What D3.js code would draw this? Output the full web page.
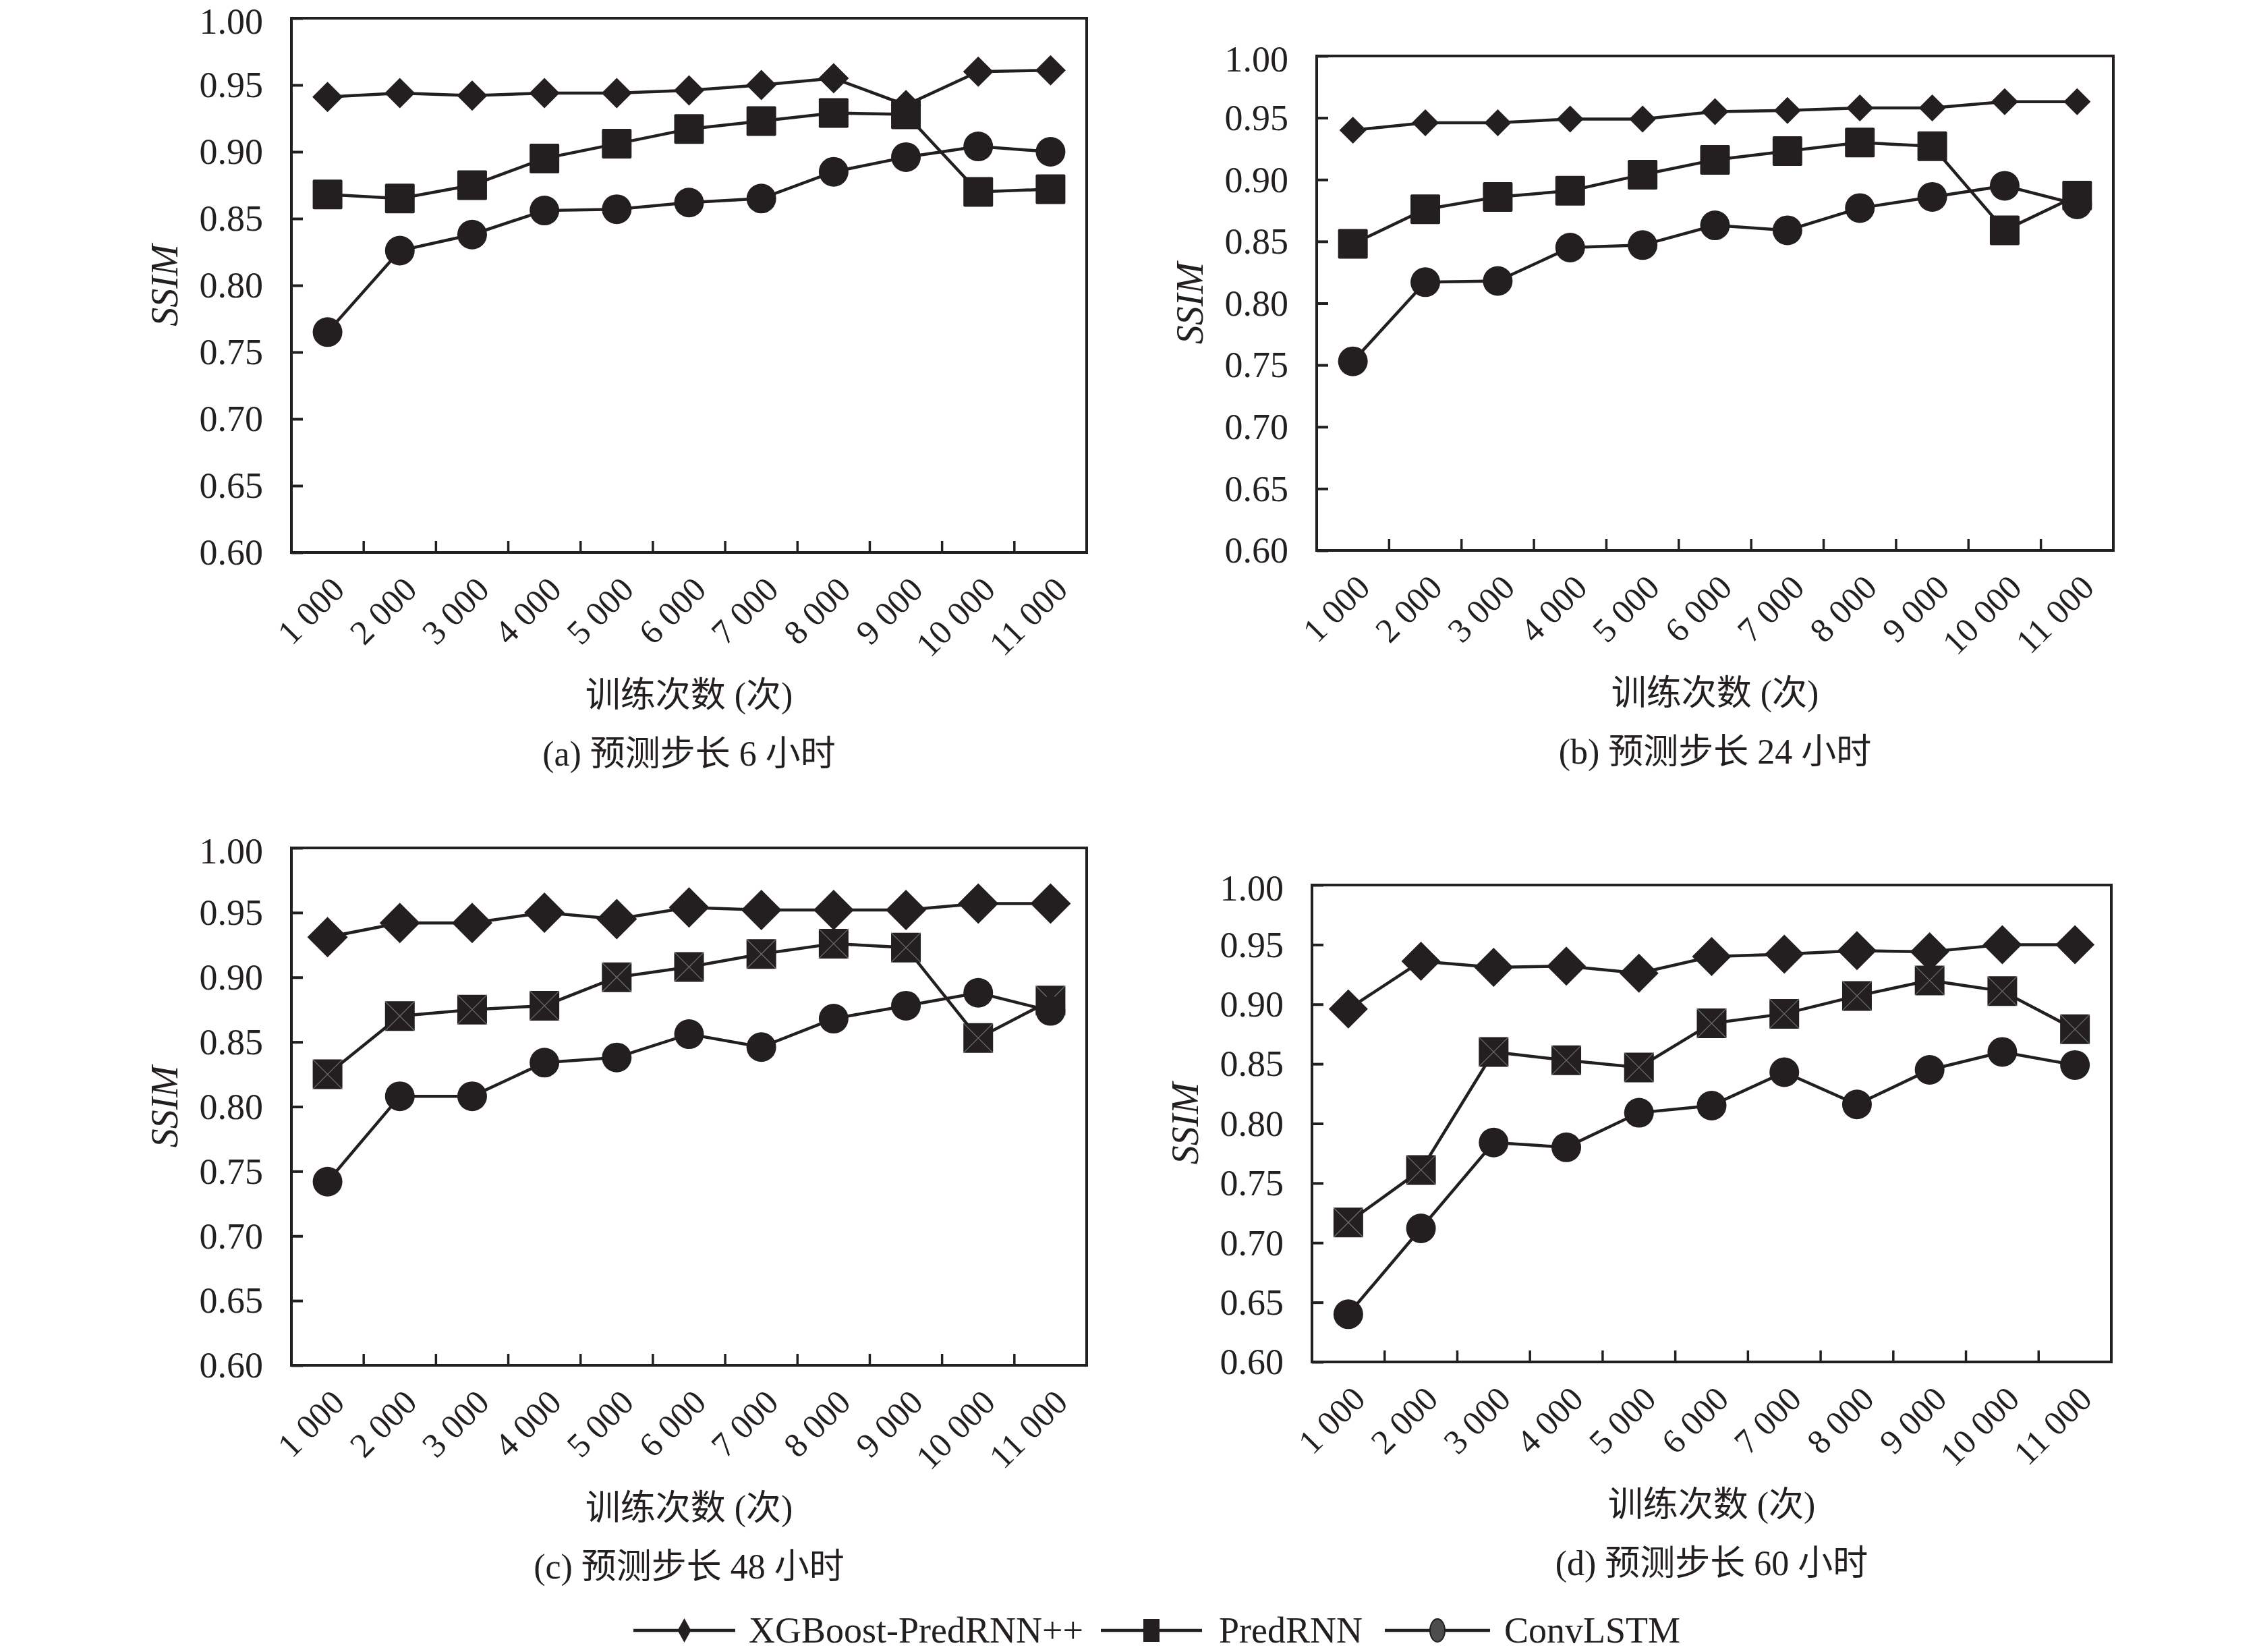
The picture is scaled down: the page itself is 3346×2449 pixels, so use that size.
<!DOCTYPE html>
<html>
<head>
<meta charset="utf-8">
<script src="https://cdn.jsdelivr.net/npm/d3@7"></script>
<style>
  body { margin: 0; background: #fff; }
  text { fill: #231f20; }
</style>
</head>
<body>
<svg id="chart" width="3346" height="2449"></svg>
<script>
// x categories and y ticks
var categories = ["1 000", "2 000", "3 000", "4 000", "5 000", "6 000", "7 000", "8 000", "9 000", "10 000", "11 000"];
var yTicks = [0.60, 0.65, 0.70, 0.75, 0.80, 0.85, 0.90, 0.95, 1.00];
var seriesNames = ["XGBoost-PredRNN++", "PredRNN", "ConvLSTM"];

// (a) 6 h
var xgbA  = [0.941, 0.944, 0.942, 0.944, 0.944, 0.946, 0.950, 0.955, 0.935, 0.960, 0.961];
var predA = [0.868, 0.865, 0.875, 0.895, 0.906, 0.917, 0.923, 0.929, 0.928, 0.870, 0.872];
var convA = [0.765, 0.826, 0.838, 0.856, 0.857, 0.862, 0.865, 0.885, 0.896, 0.904, 0.900];
// (b) 24 h
var xgbB  = [0.940, 0.946, 0.946, 0.949, 0.949, 0.955, 0.956, 0.958, 0.958, 0.963, 0.963];
var predB = [0.848, 0.876, 0.886, 0.891, 0.904, 0.916, 0.923, 0.930, 0.927, 0.859, 0.887];
var convB = [0.753, 0.817, 0.818, 0.845, 0.847, 0.863, 0.859, 0.877, 0.886, 0.895, 0.880];
// (c) 48 h
var xgbC  = [0.931, 0.942, 0.942, 0.950, 0.945, 0.954, 0.952, 0.952, 0.952, 0.957, 0.957];
var predC = [0.825, 0.870, 0.875, 0.878, 0.900, 0.908, 0.918, 0.926, 0.923, 0.853, 0.882];
var convC = [0.742, 0.808, 0.808, 0.834, 0.838, 0.856, 0.846, 0.868, 0.878, 0.888, 0.874];
// (d) 60 h
var xgbD  = [0.896, 0.936, 0.931, 0.932, 0.926, 0.940, 0.942, 0.945, 0.944, 0.950, 0.950];
var predD = [0.717, 0.761, 0.860, 0.853, 0.847, 0.884, 0.892, 0.907, 0.920, 0.911, 0.879];
var convD = [0.640, 0.712, 0.784, 0.780, 0.809, 0.815, 0.843, 0.816, 0.845, 0.860, 0.849];

var captions = ["(a) 预测步长 6 小时", "(b) 预测步长 24 小时", "(c) 预测步长 48 小时", "(d) 预测步长 60 小时"];
var xTitle = "训练次数 (次)";
var yTitle = "SSIM";

var INK = "#231f20";
var NUM_FONT = "'Liberation Serif', 'Times New Roman', serif";
var CJK_FONT = "'Liberation Serif', 'Noto Sans CJK SC', serif";

// panel boxes + marker sizes
var panels = [
  { data: [xgbA, predA, convA], L: 432,  R: 1611, T: 27,   B: 819,  dia: 45, cross: false },
  { data: [xgbB, predB, convB], L: 1952, R: 3133, T: 83,   B: 816,  dia: 40, cross: false },
  { data: [xgbC, predC, convC], L: 432,  R: 1611, T: 1257, B: 2024, dia: 60, cross: true },
  { data: [xgbD, predD, convD], L: 1945, R: 3130, T: 1312, B: 2019, dia: 58, cross: true }
];

var svg = d3.select("#chart");
svg.append("rect").attr("width", 3346).attr("height", 2449).attr("fill", "#fff");

function drawMarker(g, kind, cx, cy, size, cross) {
  var h = size / 2;
  if (kind === 0) {
    g.append("path")
      .attr("d", "M" + cx + "," + (cy - h) + "L" + (cx + h) + "," + cy + "L" + cx + "," + (cy + h) + "L" + (cx - h) + "," + cy + "Z")
      .attr("fill", INK);
  } else if (kind === 1) {
    g.append("rect")
      .attr("x", cx - h).attr("y", cy - h).attr("width", size).attr("height", size)
      .attr("rx", 2).attr("fill", INK);
    if (cross) {
      g.append("path")
        .attr("d", "M" + (cx - h) + "," + (cy - h) + "L" + (cx + h) + "," + (cy + h) + "M" + (cx + h) + "," + (cy - h) + "L" + (cx - h) + "," + (cy + h))
        .attr("stroke", "#6d6e71").attr("stroke-width", 1.2).attr("fill", "none");
    }
  } else {
    g.append("circle").attr("cx", cx).attr("cy", cy).attr("r", h).attr("fill", INK);
  }
}

panels.forEach(function(p, pi) {
  var x = d3.scaleBand().domain(categories).range([p.L, p.R]).padding(0);
  var y = d3.scaleLinear().domain([0.6, 1.0]).range([p.B, p.T]);
  var g = svg.append("g");

  // y axis with inward ticks
  var yAxis = d3.axisLeft(y).tickValues(yTicks).tickFormat(d3.format(".2f"))
    .tickSizeInner(-17).tickSizeOuter(0).tickPadding(42);
  var ya = g.append("g").attr("transform", "translate(" + p.L + ",0)").call(yAxis);
  ya.select(".domain").remove();
  ya.selectAll("line").attr("stroke", INK).attr("stroke-width", 4);
  ya.selectAll("text").attr("font-family", NUM_FONT).attr("font-size", 54).attr("fill", INK)
    .attr("dy", function(d) { return d >= 1 ? "0.42em" : "0.33em"; });

  // x tick marks at band boundaries
  g.selectAll(".xtick").data(categories.slice(1)).enter().append("line")
    .attr("x1", function(d) { return x(d); }).attr("x2", function(d) { return x(d); })
    .attr("y1", p.B).attr("y2", p.B - 17)
    .attr("stroke", INK).attr("stroke-width", 3.5);

  // x labels rotated
  var xAxis = d3.axisBottom(x).tickSize(0);
  var xa = g.append("g").attr("transform", "translate(0," + p.B + ")").call(xAxis);
  xa.select(".domain").remove();
  xa.selectAll(".tick text")
    .attr("x", 0).attr("y", 0).attr("dy", 0)
    .attr("transform", "translate(28,58) rotate(-45)")
    .attr("text-anchor", "end")
    .attr("font-family", NUM_FONT).attr("font-size", 51).attr("fill", INK);

  // frame
  g.append("rect").attr("x", p.L).attr("y", p.T).attr("width", p.R - p.L).attr("height", p.B - p.T)
    .attr("fill", "none").attr("stroke", INK).attr("stroke-width", 4);

  // series
  var line = d3.line()
    .x(function(d, i) { return x(categories[i]) + x.bandwidth() / 2; })
    .y(function(d) { return y(d); });
  p.data.forEach(function(vals, si) {
    var sg = g.append("g");
    sg.append("path").datum(vals).attr("d", line)
      .attr("fill", "none").attr("stroke", INK).attr("stroke-width", 4.5);
    var size = si === 0 ? p.dia : 44;
    vals.forEach(function(v, i) {
      drawMarker(sg, si, x(categories[i]) + x.bandwidth() / 2, y(v), size, p.cross);
    });
  });

  // axis titles
  g.append("text")
    .attr("transform", "translate(" + (p.L - 189) + "," + ((p.T + p.B) / 2) + ") rotate(-90)")
    .attr("text-anchor", "middle").attr("dy", "0.35em")
    .attr("font-family", NUM_FONT).attr("font-style", "italic").attr("font-size", 56)
    .text(yTitle);
  g.append("text")
    .attr("x", (p.L + p.R) / 2).attr("y", p.B + 211).attr("dy", "0.35em")
    .attr("text-anchor", "middle").attr("font-family", CJK_FONT).attr("font-size", 52)
    .text(xTitle);
  g.append("text")
    .attr("x", (p.L + p.R) / 2).attr("y", p.B + 298).attr("dy", "0.35em")
    .attr("text-anchor", "middle").attr("font-family", CJK_FONT).attr("font-size", 52)
    .text(captions[pi]);
});

// legend
var legendY = 2417;
var legendItems = [
  { x1: 939,  x2: 1090, tx: 1110 },
  { x1: 1632, x2: 1782, tx: 1807 },
  { x1: 2053, x2: 2209, tx: 2230 }
];
var lg = svg.append("g");
legendItems.forEach(function(it, i) {
  lg.append("line").attr("x1", it.x1).attr("x2", it.x2).attr("y1", legendY).attr("y2", legendY)
    .attr("stroke", INK).attr("stroke-width", 4.5);
  var cx = (it.x1 + it.x2) / 2;
  if (i === 0) {
    lg.append("path")
      .attr("d", "M" + cx + "," + (legendY - 18) + "L" + (cx + 10) + "," + legendY + "L" + cx + "," + (legendY + 18) + "L" + (cx - 10) + "," + legendY + "Z")
      .attr("fill", INK);
  } else if (i === 1) {
    lg.append("rect").attr("x", cx - 12).attr("y", legendY - 17).attr("width", 24).attr("height", 34).attr("fill", INK);
  } else {
    lg.append("ellipse").attr("cx", cx).attr("cy", legendY).attr("rx", 11).attr("ry", 17)
      .attr("fill", "#4d4d4f").attr("stroke", INK).attr("stroke-width", 2);
  }
  lg.append("text").attr("x", it.tx).attr("y", legendY).attr("dy", "0.33em")
    .attr("font-family", NUM_FONT).attr("font-size", 54).text(seriesNames[i]);
});
</script>
</body>
</html>
